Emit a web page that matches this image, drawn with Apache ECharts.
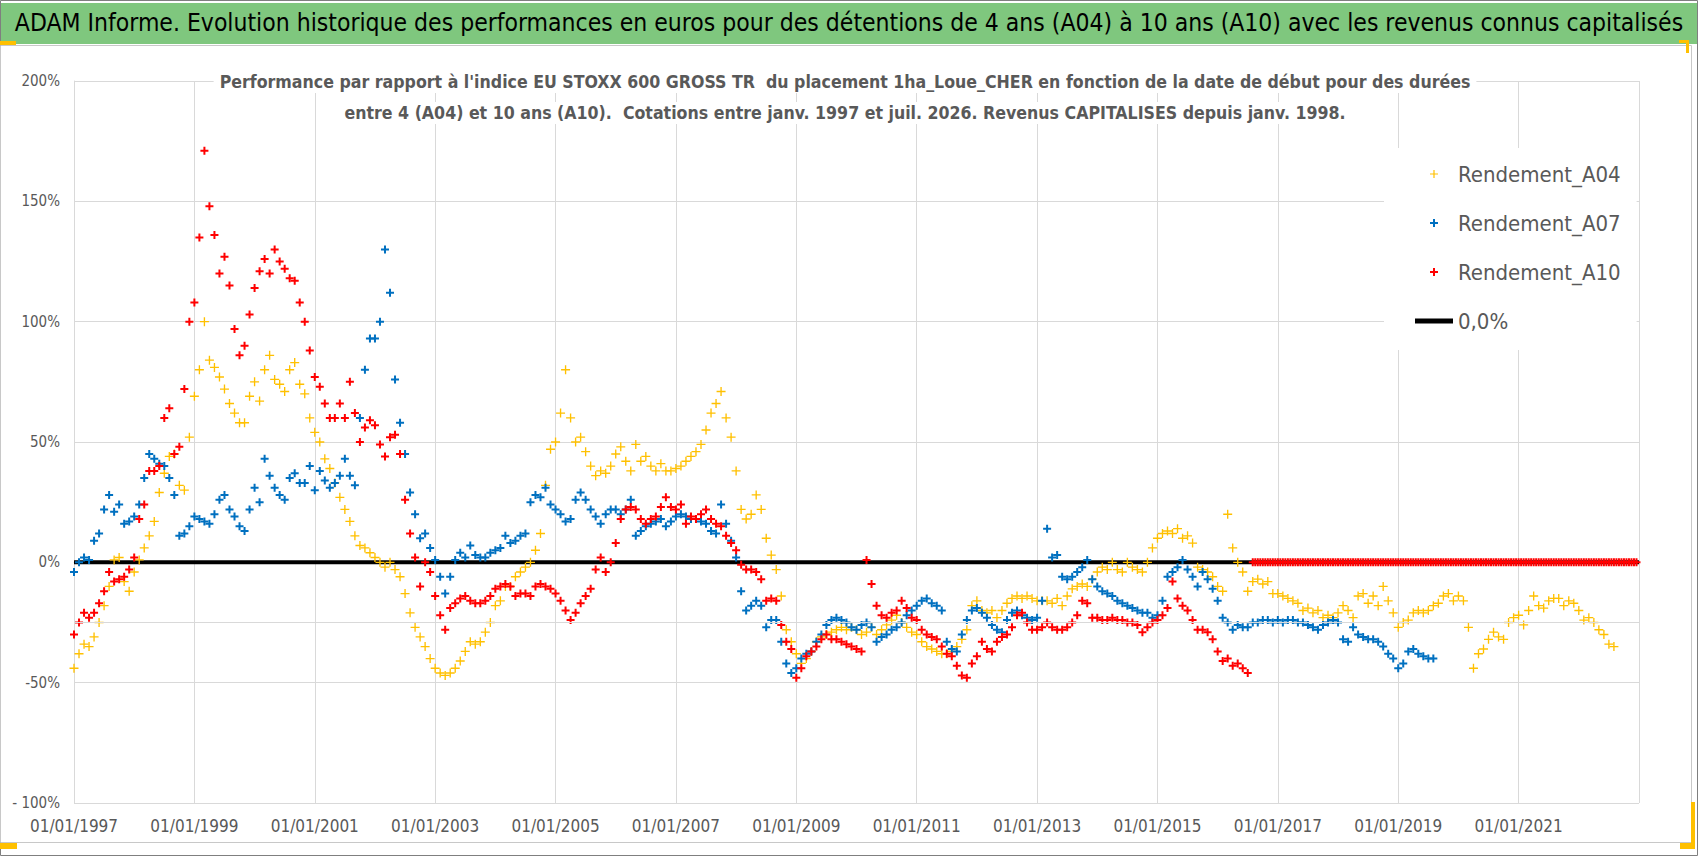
<!DOCTYPE html>
<html>
<head>
<meta charset="utf-8">
<title>ADAM Informe - Rendements A04 A07 A10</title>
<script src="https://cdn.jsdelivr.net/npm/echarts@6/dist/echarts.min.js"></script>
<style>
  html, body { margin: 0; padding: 0; background: #fff; }
  #chart { width: 1698px; height: 856px; }
</style>
</head>
<body>
<div id="chart"></div>
<script>
// valeurs mensuelles (en %), premier point = janvier 1997
const startYear = 1997;

const rendementA04 = [
  -44, -38, -34, -35, -31, -25, -18, -10, 1, 2, -8, -12,
  -4, 1, 6, 11, 17, 29, 37, 44, 45, 32, 30, 52,
  69, 80, 100, 84, 81, 77, 72, 66, 62, 58, 58, 69,
  75, 67, 80, 86, 76, 74, 71, 80, 83, 74, 70, 60,
  54, 50, 43, 39, 33, 27, 22, 17, 11, 7, 6, 4,
  2, 0, -2, 0, -3, -6, -13, -21, -27, -31, -35, -40,
  -44, -46, -47, -46, -44, -41, -37, -33, -34, -33, -29, -25,
  -18, -16, -10, -10, -6, -4, -2, 0, 5, 12, 32, 47,
  50, 62, 80, 60, 50, 52, 46, 40, 36, 38, 37, 40,
  45, 48, 42, 38, 49, 42, 44, 40, 38, 41, 38, 38,
  39, 40, 42, 44, 46, 49, 55, 62, 66, 71, 60, 52,
  38, 22, 18, 20, 28, 22, 10, 3, -3, -14, -28, -33,
  -38, -42, -40, -37, -33, -31, -30, -29, -28, -27, -28, -27,
  -28, -30, -29, -27, -30, -28, -26, -24, -22, -25, -27, -29,
  -30, -33, -35, -36, -37, -38, -38, -37, -35, -32, -28, -18,
  -16, -20, -21, -20, -23, -20, -17, -15, -14, -15, -14, -15,
  -16, -16, -16, -17, -15, -18, -14, -11, -10, -9, -10, -7,
  -4, -2, -3, 0, -3, -4, 0, -2, -3, -4, 0, 6,
  10, 12, 13, 12, 14, 10, 11, 8, -2, -3, -4, -6,
  -10, -12, 20, 6, 0, -4, -12, -8, -7, -9, -8, -13,
  -13, -14, -15, -16, -17, -20, -19, -21, -20, -23, -22, -23,
  -21, -18, -20, -23, -14, -13, -17, -14, -18, -10, -16, -21,
  -27, -25, -24, -21, -20, -21, -20, -18, -17, -14, -13, -16,
  -14, -16, -27, -44, -38, -36, -32, -29, -31, -32, -25, -23,
  -22, -26, -20, -14, -18, -19, -16, -15, -15, -18, -16, -17,
  -20, -24, -23, -25, -28, -30, -34, -35
];

const rendementA07 = [
  -4, 0, 2, 1, 9, 12, 22, 28, 21, 24, 16, 17,
  19, 24, 35, 45, 43, 41, 40, 35, 28, 11, 12, 15,
  19, 18, 17, 16, 20, 26, 28, 22, 19, 15, 13, 22,
  31, 25, 43, 36, 31, 28, 26, 35, 37, 33, 33, 40,
  30, 38, 34, 31, 33, 36, 43, 36, 32, 60, 80, 93,
  93, 100, 130, 112, 76, 58, 45, 29, 20, 10, 12, 6,
  1, -6, -13, -6, 1, 4, 2, 7, 3, 2, 2, 4,
  5, 6, 11, 8, 9, 11, 12, 25, 28, 27, 31, 24,
  22, 20, 17, 18, 26, 29, 26, 22, 19, 16, 20, 22,
  22, 20, 22, 26, 11, 13, 15, 16, 17, 18, 15, 17,
  19, 20, 19, 18, 18, 17, 16, 13, 12, 24, 16, 9,
  2, -12, -20, -18, -16, -18, -27, -24, -24, -33, -42, -46,
  -44, -40, -38, -37, -33, -30, -26, -24, -23, -24, -25, -27,
  -28, -26, -25, -27, -33, -31, -30, -28, -27, -25, -22, -20,
  -18, -16, -15, -17, -18, -20, -33, -36, -37, -30, -24, -20,
  -19, -21, -23, -26, -28, -29, -24, -21, -20, -22, -23, -24,
  -23, -16, 14, 2, 3, -6, -7, -6, -4, -2, 1, -7,
  -10, -12, -13, -14, -16, -17, -18, -19, -20, -21, -21, -23,
  -22, -16, -6, -4, -2, 1, -3, -6, -10, -4, -7, -11,
  -16, -23, -25, -28, -26, -27, -27, -25, -25, -24, -24, -25,
  -24, -25, -24, -24, -25, -25, -26, -27, -28, -26, -25, -24,
  -25, -32, -33, -27, -30, -31, -32, -32, -33, -35, -38, -40,
  -44, -42, -37, -36, -38, -39, -40, -40
];

// A10 : mensuel jusqu'a juillet 2016
const rendementA10 = [
  -30, -25, -21, -23, -21, -17, -12, -4, -8, -7, -6, -3,
  2, 18, 24, 38, 38, 40, 60, 64, 45, 48, 72, 100,
  108, 135, 171, 148, 136, 120, 127, 115, 97, 86, 90, 103,
  114, 121, 126, 120, 130, 125, 122, 118, 117, 108, 100, 88,
  77, 73, 66, 60, 60, 66, 60, 75, 62, 50, 56, 59,
  57, 49, 44, 52, 53, 45, 26, 12, 2, -10, 0, -4,
  -14, -22, -28, -19, -17, -15, -14, -16, -17, -17, -16, -14,
  -11, -10, -9, -10, -14, -13, -13, -14, -10, -9, -10, -11,
  -13, -16, -20, -24, -21, -17, -14, -11, -3, 2, -4, 0,
  8, 18, 22, 23, 22, 18, 16, 18, 19, 23, 27, 23,
  22, 24, 16, 19, 18, 20, 22, 18, 16, 15, 11, 8,
  5, -1, -3, -3, -4, -7, -16, -15, -16, -26, -33, -36,
  -48, -44, -39, -37, -35, -32, -30, -32, -32, -33, -34, -35,
  -36, -37, 1, -9, -18, -22, -23, -21, -20, -16, -19, -23,
  -24, -28, -30, -31, -32, -35, -38, -39, -43, -47, -48, -42,
  -39, -33, -36, -37, -33, -31, -30, -27, -22, -21, -25, -28,
  -28, -27, -25, -27, -28, -28, -27, -25, -22, -16, -17, -23,
  -23, -24, -24, -23, -24, -24, -25, -25, -26, -29, -27, -25,
  -24, -22, -19, -8, -15, -18, -20, -24, -28, -28, -29, -32,
  -37, -41, -40, -43, -42, -44, -46
];

// A10 nul a partir d'aout 2016 (pas de recul de 10 ans), deux valeurs par mois
const a10NulStart = 2016 + 7 / 12;
const rendementA10Nul = [
  0, 0, 0, 0, 0, 0, 0, 0, 0, 0,
  0, 0, 0, 0, 0, 0, 0, 0, 0, 0, 0, 0, 0, 0, 0, 0, 0, 0, 0, 0, 0, 0, 0, 0,
  0, 0, 0, 0, 0, 0, 0, 0, 0, 0, 0, 0, 0, 0, 0, 0, 0, 0, 0, 0, 0, 0, 0, 0,
  0, 0, 0, 0, 0, 0, 0, 0, 0, 0, 0, 0, 0, 0, 0, 0, 0, 0, 0, 0, 0, 0, 0, 0,
  0, 0, 0, 0, 0, 0, 0, 0, 0, 0, 0, 0, 0, 0, 0, 0, 0, 0, 0, 0, 0, 0, 0, 0,
  0, 0, 0, 0, 0, 0, 0, 0, 0, 0, 0, 0, 0, 0, 0, 0, 0, 0, 0, 0, 0, 0, 0, 0,
  0, 0, 0, 0, 0, 0, 0, 0, 0, 0, 0, 0, 0, 0, 0, 0, 0, 0, 0, 0, 0, 0, 0, 0
];

const ligneZero = [[1997, 0], [2023, 0]];
const ligneMoins25 = -25;

const yTickLabels = { 200: '200%', 150: '150%', 100: '100%', 50: '50%', 0: '0%', '-50': '-50%', '-100': '- 100%' };

const narrow = "'DejaVu Sans Condensed', 'Liberation Sans Narrow', sans-serif";
const gris = '#595959';
const grille = '#d9d9d9';

const plusEpais = 'path://M3,0H5V3H8V5H5V8H3V5H0V3H3Z';
const plusFin = 'path://M3.4,0H4.6V3.4H8V4.6H4.6V8H3.4V4.6H0V3.4H3.4Z';

const toPoints = (values, start, step) => values.map((v, i) => [start + i * step, v]);

const chart = echarts.init(document.getElementById('chart'), null, { renderer: 'svg' });

chart.setOption({
  animation: false,
  backgroundColor: '#fff',
  title: [
    {
      text: "ADAM Informe. Evolution historique des performances en euros pour des détentions de 4 ans (A04) à 10 ans (A10) avec les revenus connus capitalisés",
      left: 'center',
      top: 10,
      padding: 0,
      textStyle: { fontFamily: narrow, fontSize: 24.5, fontWeight: 'normal', color: '#000' }
    },
    {
      text: "Performance par rapport à l'indice EU STOXX 600 GROSS TR  du placement 1ha_Loue_CHER en fonction de la date de début pour des durées",
      left: 839,
      textAlign: 'center',
      top: 71,
      padding: [2, 6, 2, 6],
      backgroundColor: '#fff',
      textStyle: { fontFamily: narrow, fontSize: 17.6, fontWeight: 'bold', color: gris }
    },
    {
      text: "entre 4 (A04) et 10 ans (A10).  Cotations entre janv. 1997 et juil. 2026. Revenus CAPITALISES depuis janv. 1998.",
      left: 839,
      textAlign: 'center',
      top: 102,
      padding: [2, 6, 2, 6],
      backgroundColor: '#fff',
      textStyle: { fontFamily: narrow, fontSize: 17.6, fontWeight: 'bold', color: gris }
    }
  ],
  legend: {
    orient: 'vertical',
    left: 1384,
    top: 148,
    padding: [15, 16, 18, 31],
    backgroundColor: '#fff',
    itemWidth: 38,
    itemHeight: 8,
    itemGap: 27,
    textStyle: { fontFamily: narrow, fontSize: 22, color: gris, lineHeight: 20 },
    data: [
      'Rendement_A04',
      'Rendement_A07',
      'Rendement_A10',
      { name: '0,0%', icon: 'path://M0,0H38V5H0Z' }
    ]
  },
  grid: { left: 74, right: 59, top: 81, bottom: 53 },
  xAxis: {
    type: 'value',
    min: 1997,
    max: 2023,
    interval: 2,
    axisLine: { show: true, lineStyle: { color: grille } },
    axisTick: { show: false },
    splitLine: { show: true, lineStyle: { color: grille, width: 1 } },
    axisLabel: {
      showMaxLabel: false,
      margin: 14,
      fontFamily: narrow, fontSize: 17, color: gris,
      formatter: (v) => '01/01/' + v
    }
  },
  yAxis: {
    type: 'value',
    min: -100,
    max: 200,
    interval: 50,
    axisLine: { show: true, lineStyle: { color: grille } },
    axisTick: { show: false },
    splitLine: { show: true, lineStyle: { color: grille, width: 1 } },
    axisLabel: {
      margin: 14,
      fontFamily: narrow, fontSize: 15, color: gris,
      formatter: (v) => yTickLabels[v] !== undefined ? yTickLabels[v] : v + '%'
    }
  },
  series: [
    {
      name: '0,0%',
      type: 'line',
      data: ligneZero,
      symbol: 'none',
      z: 1,
      lineStyle: { color: '#000', width: 4 },
      itemStyle: { color: '#000' },
      markLine: {
        silent: true,
        symbol: 'none',
        label: { show: false },
        lineStyle: { color: grille, width: 1, type: 'solid' },
        data: [{ yAxis: ligneMoins25 }]
      }
    },
    {
      name: 'Rendement_A04',
      type: 'scatter',
      data: toPoints(rendementA04, startYear, 1 / 12),
      symbol: plusFin,
      symbolSize: 9,
      z: 2,
      itemStyle: { color: '#ffc000', opacity: 1 }
    },
    {
      name: 'Rendement_A07',
      type: 'scatter',
      data: toPoints(rendementA07, startYear, 1 / 12),
      symbol: plusEpais,
      symbolSize: 8,
      z: 3,
      itemStyle: { color: '#0070c0', opacity: 1 }
    },
    {
      name: 'Rendement_A10',
      type: 'scatter',
      data: toPoints(rendementA10, startYear, 1 / 12).concat(toPoints(rendementA10Nul, a10NulStart, 1 / 24)),
      symbol: plusEpais,
      symbolSize: 8,
      z: 4,
      itemStyle: { color: '#ff0000', opacity: 1 }
    }
  ],
  graphic: [
    { type: 'rect', z: -10, shape: { x: 0.5, y: 0.5, width: 1697, height: 855 }, style: { fill: '#fff', stroke: '#7f7f7f', lineWidth: 1 }, silent: true },
    { type: 'rect', z: -9, shape: { x: 1, y: 3, width: 1696, height: 41 }, style: { fill: '#7fc77e' }, silent: true },
    { type: 'rect', z: -9, shape: { x: 0.5, y: 45.5, width: 1691, height: 797 }, style: { fill: 'none', stroke: '#c8c8c8', lineWidth: 1 }, silent: true },
    { type: 'rect', z: 20, shape: { x: 0, y: 41, width: 16, height: 4 }, style: { fill: '#ffc000' }, silent: true },
    { type: 'rect', z: 20, shape: { x: 1679, y: 40, width: 10, height: 3 }, style: { fill: '#ffc000' }, silent: true },
    { type: 'rect', z: 20, shape: { x: 1686, y: 40, width: 3, height: 13 }, style: { fill: '#ffc000' }, silent: true },
    { type: 'rect', z: 20, shape: { x: 0, y: 843, width: 17, height: 6 }, style: { fill: '#ffc000' }, silent: true },
    { type: 'rect', z: 20, shape: { x: 1691, y: 802, width: 4, height: 47 }, style: { fill: '#ffc000' }, silent: true },
    { type: 'rect', z: 20, shape: { x: 1680, y: 843, width: 15, height: 6 }, style: { fill: '#ffc000' }, silent: true }
  ]
});
</script>
</body>
</html>
